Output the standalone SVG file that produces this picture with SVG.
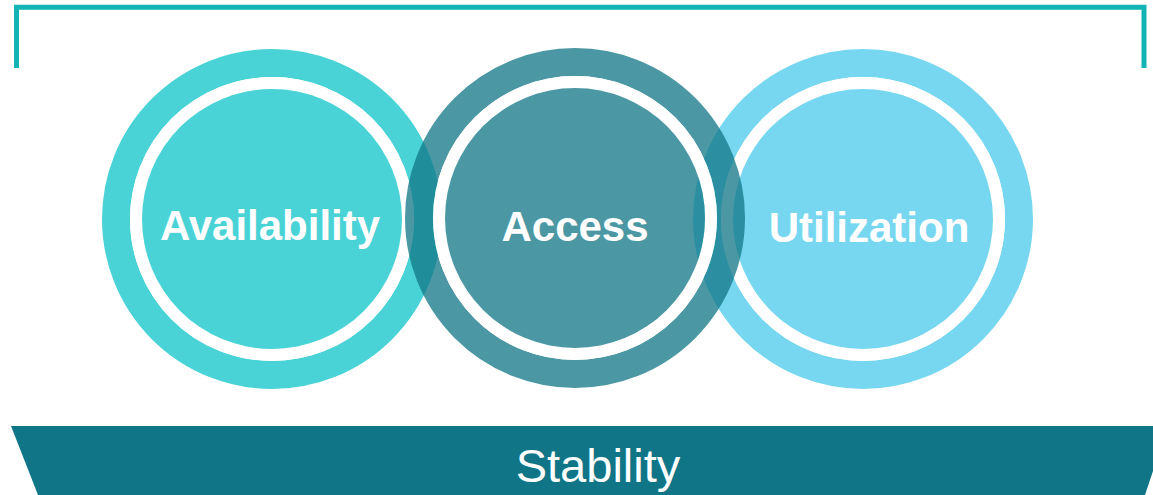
<svg xmlns="http://www.w3.org/2000/svg" width="1153" height="495" viewBox="0 0 1153 495">
  <style>
    .lbl { font-family: "Liberation Sans", Arial, sans-serif; font-weight: bold; font-size: 42px; fill: #ffffff; text-anchor: middle; }
    .base { font-family: "Liberation Sans", Arial, sans-serif; font-size: 47px; fill: #ffffff; text-anchor: middle; }
    .ring { fill: none; stroke-width: 28; }
    .gap { fill: none; stroke: #ffffff; stroke-width: 12; }
  </style>
  <rect width="1153" height="495" fill="#ffffff"/>
  <g id="bracket">
    <path d="M16.5,68 V7.2 H1144 V68" fill="none" stroke="#12B3B5" stroke-width="5"/>
  </g>
  <g id="availability">
    <circle cx="272" cy="219" r="156" class="ring" stroke="#4AD3D6"/>
    <circle cx="272" cy="219" r="136" class="gap"/>
    <circle cx="272" cy="219" r="130" fill="#4AD3D6"/>
    <text x="270" y="240" class="lbl">Availability</text>
  </g>
  <g id="utilization">
    <circle cx="863" cy="219" r="156" class="ring" stroke="#78D7F0"/>
    <circle cx="863" cy="219" r="136" class="gap"/>
    <circle cx="863" cy="219" r="130" fill="#78D7F0"/>
    <text x="869" y="242" class="lbl">Utilization</text>
  </g>
  <g id="access">
    <circle cx="575" cy="218" r="156" class="ring" stroke="#127888" stroke-opacity="0.76"/>
    <circle cx="575" cy="218" r="136" class="gap"/>
    <circle cx="575" cy="218" r="130" fill="#127888" fill-opacity="0.76"/>
    <text x="575" y="241" class="lbl">Access</text>
  </g>
  <g id="stability">
    <polygon points="11,426 1168,426 1145,495 38,495" fill="#107587"/>
    <text x="598" y="482" class="base">Stability</text>
  </g>
</svg>
